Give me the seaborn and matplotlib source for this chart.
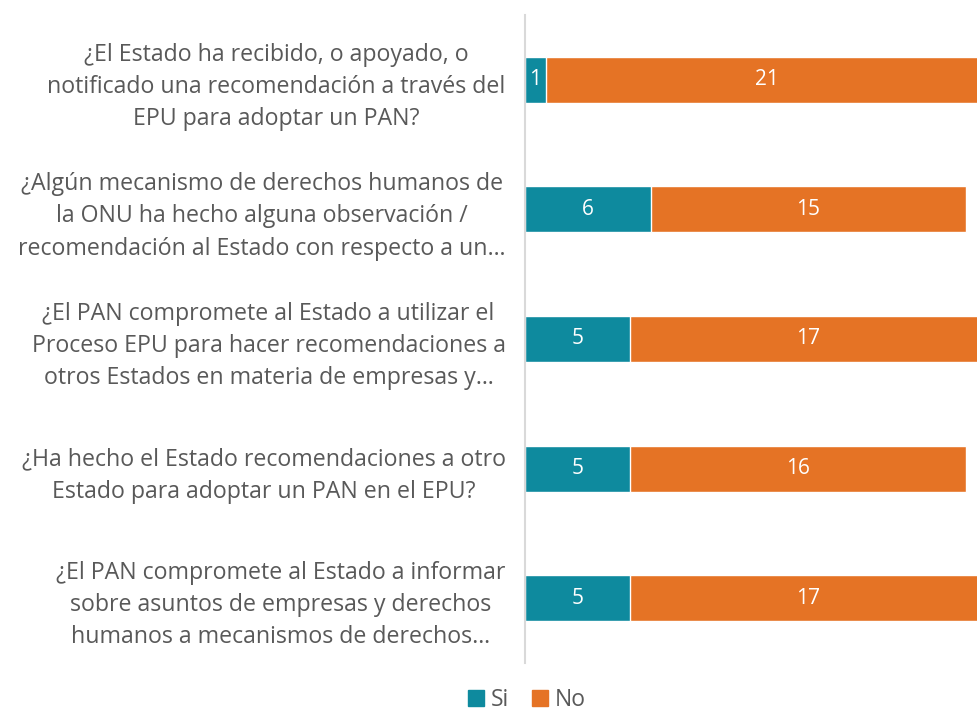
import seaborn as sns
import matplotlib.pyplot as plt
import pandas as pd
from matplotlib.patches import Patch

# data
preguntas = [
    "¿El Estado ha recibido, o apoyado, o\nnotificado una recomendación a través del\nEPU para adoptar un PAN?",
    "¿Algún mecanismo de derechos humanos de\nla ONU ha hecho alguna observación /\nrecomendación al Estado con respecto a un…",
    "¿El PAN compromete al Estado a utilizar el\nProceso EPU para hacer recomendaciones a\notros Estados en materia de empresas y…",
    "¿Ha hecho el Estado recomendaciones a otro\nEstado para adoptar un PAN en el EPU?",
    "¿El PAN compromete al Estado a informar\nsobre asuntos de empresas y derechos\nhumanos a mecanismos de derechos…",
]
si = [1, 6, 5, 5, 5]
no = [21, 15, 17, 16, 17]

TEAL = "#0E8A9E"
ORANGE = "#E57325"
GREY = "#595959"

sns.set_style("white")
plt.rcParams['font.family'] = ['Open Sans', 'DejaVu Sans']

df = pd.DataFrame({"pregunta": preguntas, "Si": si, "No": no})
df["total"] = df["Si"] + df["No"]

fig = plt.figure(figsize=(9.78, 7.15), dpi=100)
ax = fig.add_axes([525 / 978, 1 - 663 / 715, 462 / 978, 648 / 715])

sns.barplot(data=df, y="pregunta", x="total", color=ORANGE, orient="h",
            width=0.355, saturation=1, ax=ax)
sns.barplot(data=df, y="pregunta", x="Si", color=TEAL, orient="h",
            width=0.355, saturation=1, ax=ax)

for i, row in df.iterrows():
    ax.text(row["Si"] / 2, i, str(row["Si"]), color="white", fontsize=15,
            ha="center", va="center")
    ax.text(row["Si"] + row["No"] / 2, i, str(row["No"]), color="white",
            fontsize=15, ha="center", va="center")

ax.set_xlim(0, 22)
ax.set_xlabel("")
ax.set_ylabel("")
ax.set_xticks([])
ax.tick_params(axis="y", length=0, pad=14)
ax.set_yticks(range(len(preguntas)))
ax.set_yticklabels(preguntas, fontsize=16.7, color=GREY,
                   multialignment="center", linespacing=1.45)

for s in ["top", "right", "bottom"]:
    ax.spines[s].set_visible(False)
ax.spines["left"].set_color("#D9D9D9")
ax.spines["left"].set_linewidth(1.5)

handles = [Patch(color=TEAL, label="Si"), Patch(color=ORANGE, label="No")]
fig.legend(handles=handles, loc="center", bbox_to_anchor=(527 / 978, 1 - 700 / 715),
           ncol=2, frameon=False, fontsize=16.5, labelcolor=GREY,
           handlelength=0.7, handleheight=0.7, handletextpad=0.3, columnspacing=1.0,
           borderpad=0.1)

fig.savefig("out.png", dpi=100)
